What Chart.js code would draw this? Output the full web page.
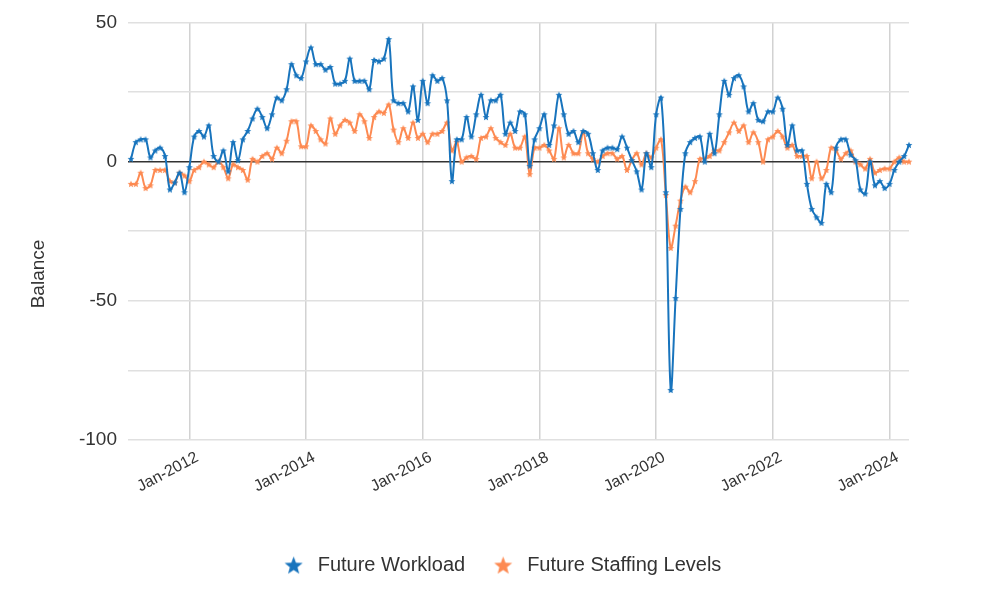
<!DOCTYPE html>
<html>
<head>
<meta charset="utf-8">
<script src="https://cdn.jsdelivr.net/npm/chart.js@4.4.1/dist/chart.umd.min.js"></script>
<style>
  html, body { margin: 0; padding: 0; background: #fff; }
  #wrap { width: 1001px; height: 614px; position: relative; }
</style>
</head>
<body>
<div id="wrap"><canvas id="chart"></canvas></div>
<script>
// monthly survey balances, Jan-2011 .. May-2024
var startYear = 2011;
var monthNames = ['Jan', 'Feb', 'Mar', 'Apr', 'May', 'Jun', 'Jul', 'Aug', 'Sep', 'Oct', 'Nov', 'Dec'];

var futureWorkload = [
  1, 7, 8, 8, 1.5, 4, 5, 2, -10, -7.5, -4, -11,
  -2, 9, 11, 9, 13, 2, 0, 4, -3.5, 7, 0.5, 8,
  11, 15.5, 19, 16, 12, 17, 23, 22, 26, 35, 31, 30,
  36, 41, 35, 35, 33, 34, 28, 28, 29, 37, 29, 29,
  29, 26, 36.5, 36, 37, 44, 22, 21, 21, 18, 27, 15,
  29, 21, 31, 29, 30, 22, -7, 8, 8, 16, 9, 17,
  24, 16, 22, 22, 24, 10, 14, 11, 18, 17, -1.5, 8,
  12, 17, 6, 13, 24, 17, 10, 11, 7, 11, 10, 3,
  -3, 4, 5, 5, 4.5, 9, 5, 0.5, -3.5, -10, 3, -2,
  17, 23, -11, -82, -49, -17, 3, 7, 8.5, 9, 0, 10,
  3, 17, 29, 24, 30, 31, 27, 18, 21, 15, 14.5, 18,
  18, 23, 19, 6, 13, 4, 4, -8, -17, -20, -22, -8,
  -11, 5, 8, 8, 2.5, 0.5, -10, -11.5, 0, -8.5, -7, -9.5,
  -8, -3, 0, 2, 6
];

var futureStaffing = [
  -8, -8, -4, -9.5, -8.5, -3, -3, -3, -7, -7.5, -4, -5,
  -7, -3, -2, 0, -1, -2, 0, -2, -6, -1, -2, -3,
  -6.5, 1, 0, 2, 3, 1, 5, 3, 7.5, 14.5, 14.5, 5.5,
  5.5, 13, 11, 8, 6.5, 15.5, 10, 13, 15, 14, 11, 17,
  14.5, 8.5, 16, 18, 17.5, 20.5, 11.5, 7, 12, 8.5, 14, 8.5,
  10, 7, 10, 10, 11, 14, 4, 7, 0, 1.5, 2, 1,
  8.5, 9, 12, 8.5, 7, 6, 10, 5, 5, 9, -4.5, 5,
  5, 6, 4, 1, 12, 1.5, 6, 3, 3, 10.5, 3, 1,
  0, 2, 3, 3, 1, 2, -3, 0.5, 3, -1, 3, 1.5,
  5, 8, -12, -31, -23, -14, -9, -11, -7, 1, 1, 2,
  4, 4, 7, 10.5, 14, 11, 13, 7, 10.5, 7, 0, 8,
  9, 11, 9, 5, 6, 2, 2, 2, -6, 0, -6, -3,
  5, 4, 1, 3, 4, 0, -1, -2.5, 1, -4, -3, -2.5,
  -2.5, 0, 1.5, 0, 0
];

var seriesNames = ['Future Workload', 'Future Staffing Levels'];
var seriesColors = ['#1874bd', '#fd8a52'];

var months = [];
for (var i = 0; i < futureWorkload.length; i++) {
  months.push(monthNames[i % 12] + '-' + (startYear + Math.floor(i / 12)));
}

// x ticks: January of even years only
function isMajor(idx) {
  return idx % 12 === 0 && (startYear + idx / 12) % 2 === 0;
}

// filled five point star drawn on a small canvas
function makeStar(color, outer, inner) {
  var size = Math.ceil(outer * 2) + 2;
  var c = document.createElement('canvas');
  c.width = size;
  c.height = size;
  var g = c.getContext('2d');
  g.translate(size / 2, size / 2 + outer * 0.1);
  g.beginPath();
  for (var k = 0; k < 10; k++) {
    var r = k % 2 ? inner : outer;
    var a = -Math.PI / 2 + k * Math.PI / 5;
    g.lineTo(r * Math.cos(a), r * Math.sin(a));
  }
  g.closePath();
  g.fillStyle = color;
  g.fill();
  return c;
}

var pointStars = seriesColors.map(function (c) { return makeStar(c, 3.6, 1.6); });
var legendStars = seriesColors.map(function (c) { return makeStar(c, 9.5, 4); });

var fontFamily = '"Liberation Sans", Arial, sans-serif';

// y axis title, placed like the original (not centred on the plot)
var yTitlePlugin = {
  id: 'yTitle',
  afterDraw: function (chart) {
    var ctx = chart.ctx;
    ctx.save();
    ctx.translate(39, 274);
    ctx.rotate(-Math.PI / 2);
    ctx.font = '19px ' + fontFamily;
    ctx.fillStyle = '#333';
    ctx.textAlign = 'center';
    ctx.textBaseline = 'middle';
    ctx.fillText('Balance', 0, 0);
    ctx.restore();
  }
};

var ctxChart = document.getElementById('chart');
var chartLine = new Chart(ctxChart, {
  type: 'line',
  data: {
    labels: months,
    datasets: [{
      label: seriesNames[0],
      data: futureWorkload,
      borderColor: seriesColors[0],
      backgroundColor: seriesColors[0],
      borderWidth: 2,
      tension: 0.35,
      pointStyle: pointStars[0],
      pointRadius: 3,
      pointHoverRadius: 4
    }, {
      label: seriesNames[1],
      data: futureStaffing,
      borderColor: seriesColors[1],
      backgroundColor: seriesColors[1],
      borderWidth: 2,
      tension: 0.35,
      pointStyle: pointStars[1],
      pointRadius: 3,
      pointHoverRadius: 4
    }]
  },
  options: {
    responsive: true,
    maintainAspectRatio: false,
    animation: false,
    layout: {
      padding: { top: 22, right: 0, bottom: 29, left: 0 }
    },
    plugins: {
      legend: {
        position: 'bottom',
        labels: {
          usePointStyle: true,
          pointStyleWidth: 28,
          padding: 24,
          color: '#333',
          font: { size: 20, family: fontFamily },
          generateLabels: function (chart) {
            var items = Chart.defaults.plugins.legend.labels.generateLabels(chart);
            items.forEach(function (it, i) { it.pointStyle = legendStars[i]; });
            return items;
          }
        }
      },
      tooltip: { enabled: true }
    },
    scales: {
      x: {
        offset: false,
        border: { display: false },
        grid: {
          drawTicks: false,
          lineWidth: 1.5,
          color: function (c) {
            return c.tick && isMajor(c.tick.value) ? '#d2d2d2' : 'rgba(0,0,0,0)';
          }
        },
        ticks: {
          autoSkip: false,
          minRotation: 28,
          maxRotation: 28,
          padding: 8,
          labelOffset: 8,
          color: '#333',
          font: { size: 16, family: fontFamily },
          callback: function (v, idx) { return isMajor(idx) ? months[idx] : null; }
        },
        afterFit: function (s) { s.height = 91; }
      },
      y: {
        min: -100,
        max: 50,
        border: { display: false },
        grid: {
          tickLength: 3,
          lineWidth: 1.5,
          color: function (c) {
            return c.tick && c.tick.value === 0 ? '#333' : '#e0e0e0';
          }
        },
        ticks: {
          stepSize: 25,
          padding: 11,
          color: '#333',
          font: { size: 19, family: fontFamily },
          callback: function (v) { return v % 50 === 0 ? v : ''; }
        },
        afterFit: function (s) { s.width = 131; }
      },
      // empty right-hand gutter so the legend stays centred on the page
      yRight: {
        position: 'right',
        min: -100,
        max: 50,
        border: { display: false },
        grid: { drawOnChartArea: false, drawTicks: false },
        ticks: { display: false },
        afterFit: function (s) { s.width = 92; }
      }
    }
  },
  plugins: [yTitlePlugin]
});
</script>
</body>
</html>
